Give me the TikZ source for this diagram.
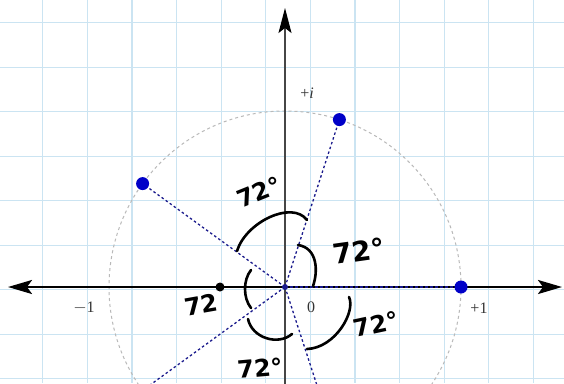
\documentclass[tikz,border=0pt]{standalone}
\usepackage{fontspec}
\setmainfont{Liberation Serif}
\newfontfamily\hand{DejaVu Sans}
\usetikzlibrary{arrows.meta}
\definecolor{gridblue}{RGB}{203,228,242}
\definecolor{navy}{RGB}{25,25,140}
\definecolor{ptblue}{RGB}{0,0,200}
\definecolor{axgray}{RGB}{70,70,70}
\begin{document}
\begin{tikzpicture}[x=1pt,y=-1pt,
  gridline/.style={gridblue,line width=1.2pt},
  circ/.style={gray!55,line width=1pt,dash pattern=on 3pt off 3pt},
  spoke/.style={navy,line width=1.3pt,dash pattern=on 2.5pt off 2.5pt},
  haxis/.style={black,line width=2.4pt,{Stealth[length=24pt,width=14pt,inset=5pt]}-{Stealth[length=24pt,width=14pt,inset=5pt]}},
  vaxis/.style={axgray,line width=1.4pt,-{Stealth[length=25pt,width=13pt,inset=5pt,color=black]}},
  handarc/.style={black,line width=2.6pt,line cap=round},
  handlbl/.style={font=\hand\bfseries\fontsize{24}{24}\selectfont,inner sep=0pt},
  axlbl/.style={font=\fontsize{16}{16}\selectfont,inner sep=0pt,text=black!80}
]
\useasboundingbox (0,0) rectangle (564,383);
\clip (0,0) rectangle (564,383);
\fill[white] (0,0) rectangle (564,383);
% grid
\foreach \i in {0,...,12}{
  \pgfmathsetmacro{\gx}{42.7+44.6*\i}
  \draw[gridline] (\gx,0) -- (\gx,383);
}
\foreach \j in {0,...,8}{
  \pgfmathsetmacro{\gy}{22.7+44.5*\j}
  \draw[gridline] (0,\gy) -- (564,\gy);
}
% key points
\coordinate (O) at (285,287);
\coordinate (P0) at (461,287);
\coordinate (P1) at (339.4,119.6);
\coordinate (P2) at (142.6,183.6);
\coordinate (P3) at (142.6,390.4);
\coordinate (P4) at (339.4,454.4);
\coordinate (L) at (8,287);
\coordinate (R) at (562,287);
\coordinate (B) at (285,390);
\coordinate (T) at (285,8);
\coordinate (D) at (220,287);
% unit circle
\draw[circ] (O) circle[radius=176pt];
% axes
\draw[vaxis] (B) -- (T);
\draw[haxis] (L) -- (R);
% spokes
\draw[spoke] (O) -- (P0);
\draw[spoke] (O) -- (P1);
\draw[spoke] (O) -- (P2);
\draw[spoke] (O) -- (P3);
\draw[spoke] (O) -- (P4);
% points
\fill[ptblue] (P0) circle[radius=6.5pt];
\fill[ptblue] (P1) circle[radius=6.5pt];
\fill[ptblue] (P2) circle[radius=6.5pt];
\fill[navy] (O) circle[radius=3pt];
\fill[black] (D) circle[radius=4.5pt];
% axis labels
\node[axlbl] (m1) at (84,308) {$-$1};
\node[axlbl] (p1) at (479,308) {+1};
\node[axlbl] (z) at (311,307) {0};
\node[axlbl] (pi) at (307,93) {+\textit{i}};
% hand-drawn arcs
\draw[handarc] (237,251) .. controls (246,222) and (292,200) .. (307,220);
\draw[handarc] (298,245) .. controls (318,248) and (318,272) .. (313,286);
\draw[handarc] (349,297) .. controls (356,312) and (335,348) .. (307,349);
\draw[handarc] (248,319) .. controls (252,338) and (278,346) .. (292,334);
\draw[handarc] (251,270) .. controls (243,280) and (243,298) .. (251,308);
% hand-drawn labels
\node[handlbl,rotate=22] (a1) at (259,192) {72°};
\node[handlbl,rotate=8,scale=1.15] (a2) at (359,251) {72°};
\node[handlbl,rotate=12] (a3) at (376,324) {72°};
\node[handlbl,rotate=5] (a4) at (260,368) {72°};
\node[handlbl,rotate=10] (a5) at (201,305) {72};
\end{tikzpicture}
\end{document}
